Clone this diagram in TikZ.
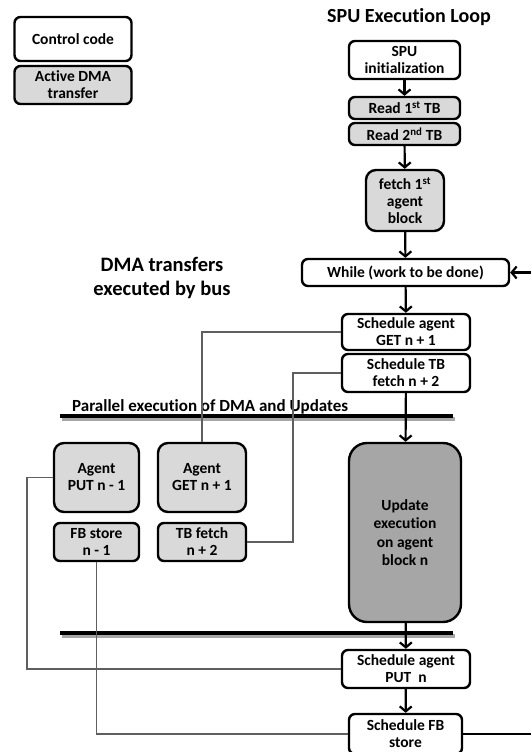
\documentclass[tikz,border=0pt]{standalone}
\usepackage{fontspec}
\setmainfont{Carlito}[RawFeature=-liga]
\usetikzlibrary{arrows.meta}

\definecolor{dmagray}{RGB}{217,217,217}
\definecolor{updgray}{RGB}{166,166,166}
\definecolor{wiregray}{RGB}{95,95,95}

\tikzset{
    box/.style={draw, line width=2.4pt, rounded corners=6pt, fill=white, align=center,
        inner sep=0pt, font=\bfseries\fontsize{15.5}{17}\selectfont},
    dmabox/.style={box, fill=dmagray},
    flow/.style={line width=2.2pt, -{Straight Barb[length=5pt,width=12pt]}},
    wire/.style={wiregray, line width=1.1pt},
    bar/.style={line width=3.6pt}
}

\begin{document}
\begin{tikzpicture}[x=1pt, y=-1pt]
    \useasboundingbox (0,0) rectangle (531,752);

    % Legend
    \node[box, minimum width=117pt, minimum height=44pt] (legctrl) at (73,39) {Control code};
    \node[dmabox, minimum width=117pt, minimum height=38pt] (legdma) at (73,85) {Active DMA\\transfer};

    % Titles
    \node[font=\bfseries\fontsize{20}{22}\selectfont] (looptitle) at (409,17) {SPU Execution Loop};
    \node[font=\bfseries\fontsize{20.5}{24}\selectfont, align=center] (bustitle) at (162,278) {DMA transfers\\executed by bus};
    \node[font=\bfseries\fontsize{17}{19}\selectfont, anchor=base west, inner sep=0pt] (partitle) at (72,411)
        {\underline{Parallel execution of DMA and Updates}};

    % Start of the SPU loop
    \node[box, minimum width=111pt, minimum height=38pt] (spuinit) at (404.5,60) {SPU\\initialization};
    \node[dmabox, minimum width=111pt, minimum height=22pt] (readone) at (404.5,108) {Read 1\textsuperscript{st} TB};
    \node[dmabox, minimum width=111pt, minimum height=22pt] (readtwo) at (404.5,134) {Read 2\textsuperscript{nd} TB};
    \node[dmabox, rounded corners=10pt, minimum width=78pt, minimum height=61pt] (fetchfirst) at (405,200.5)
        {fetch 1\textsuperscript{st}\\agent\\block};
    \node[box, minimum width=207pt, minimum height=27pt] (while) at (405.5,272.5) {While (work to be done)};

    % Scheduling
    \node[box, minimum width=128pt, minimum height=36pt] (schedget) at (406,332) {Schedule agent\\GET n + 1};
    \node[box, minimum width=128pt, minimum height=38pt] (schedtb) at (406,373) {Schedule TB\\fetch n + 2};

    % Update
    \node[box, fill=updgray, rounded corners=18pt, minimum width=112pt, minimum height=179pt,
        font=\bfseries\fontsize{15.5}{18.5}\selectfont] (update) at (405,532.5)
        {Update\\execution\\on agent\\block n};

    \node[box, minimum width=128pt, minimum height=38pt] (schedput) at (406,669) {Schedule agent\\PUT~ n};
    \node[box, minimum width=113pt, minimum height=40pt] (schedfb) at (405.5,734) {Schedule FB\\store};

    % DMA transfers on the bus
    \node[dmabox, rounded corners=10pt, minimum width=85pt, minimum height=69pt] (agentput) at (96.5,477.5) {Agent\\PUT n - 1};
    \node[dmabox, rounded corners=10pt, minimum width=88pt, minimum height=69pt] (agentget) at (202,477.5) {Agent\\GET n + 1};
    \node[dmabox, minimum width=85pt, minimum height=38pt] (fbstore) at (96.5,542) {FB store\\n - 1};
    \node[dmabox, minimum width=88pt, minimum height=38pt] (tbfetch) at (202,542) {TB fetch\\n + 2};

    % Parallel section bars
    \draw[bar, black!35] (62,419) -- (455,419);
    \draw[bar] (60,416) -- (453,416);
    \draw[bar, black!35] (62,636) -- (455,636);
    \draw[bar] (60,633) -- (453,633);

    % Control flow
    \draw[flow] (spuinit) -- (readone);
    \draw[flow] (readtwo) -- (fetchfirst);
    \draw[flow] (fetchfirst) -- (while);
    \draw[flow] (while) -- (schedget);
    \draw[flow] (schedtb) -- (update);
    \draw[flow] (update) -- (schedput);
    \draw[flow] (schedput) -- (schedfb);

    % Loop back to while
    \coordinate (loopend) at (531,734);
    \coordinate (loopstart) at (531,272.5);
    \draw[line width=2.2pt] (schedfb.east) -- (loopend);
    \draw[flow] (loopstart) -- (while.east);

    % Wires to the DMA transfers
    \coordinate (tbturn) at (293,373);
    \coordinate (putturn) at (27,669);
    \draw[wire] (schedget.west) -| (agentget.north);
    \draw[wire] (schedtb.west) -- (tbturn) |- (tbfetch.east);
    \draw[wire] (agentput.west) -| (putturn) -- (schedput.west);
    \draw[wire] (fbstore.south) |- (schedfb.west);

\end{tikzpicture}
\end{document}
